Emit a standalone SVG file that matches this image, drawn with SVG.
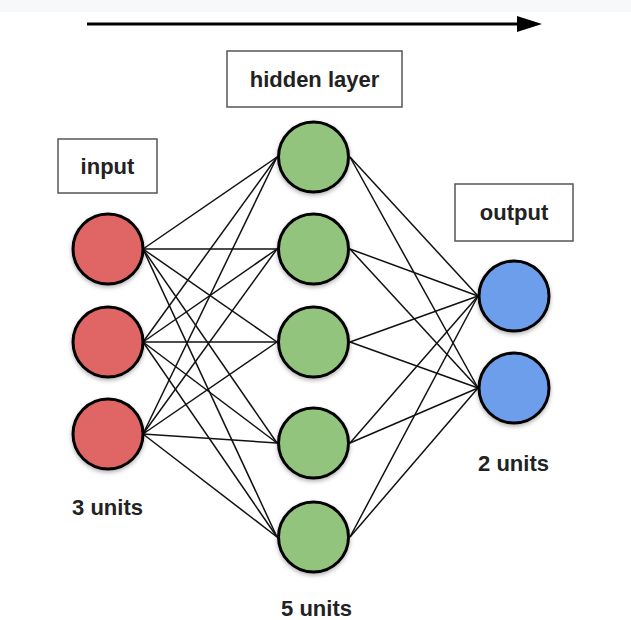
<svg xmlns="http://www.w3.org/2000/svg" width="631" height="620" viewBox="0 0 631 620">
<defs>
<style>
.lbl{font-family:"Liberation Sans",Arial,sans-serif;font-weight:bold;font-size:22px;fill:#222;text-anchor:middle}
.box{fill:#fff;stroke:#555;stroke-width:1.5}
.n{stroke:#000;stroke-width:3}
.r{fill:#e06666}.g{fill:#93c47d}.b{fill:#6d9eeb}
.c line{stroke:#111;stroke-width:1.5}
</style>
<filter id="sh" x="-30%" y="-30%" width="160%" height="160%">
<feDropShadow dx="0" dy="2" stdDeviation="2" flood-color="#000" flood-opacity="0.3"/>
</filter>
</defs>
<rect width="631" height="620" fill="#fff"/>
<rect width="631" height="12" fill="#f7f8f9"/>
<g id="flow-arrow">
<line x1="87" y1="24" x2="518" y2="24" stroke="#000" stroke-width="3"/>
<polygon points="517,16 542,24 517,32" fill="#000"/>
</g>
<g id="label-hidden"><rect class="box" x="227" y="51" width="175" height="56"/><text class="lbl" x="314.5" y="87">hidden layer</text></g>
<g id="label-input"><rect class="box" x="58" y="139" width="99" height="54"/><text class="lbl" x="107.5" y="174">input</text></g>
<g id="label-output"><rect class="box" x="455" y="184" width="118" height="57"/><text class="lbl" x="514" y="220">output</text></g>
<g class="c" id="connectors">
<line x1="143" y1="249" x2="277" y2="157"/><line x1="143" y1="249" x2="277" y2="249"/><line x1="143" y1="249" x2="277" y2="342"/><line x1="143" y1="249" x2="277" y2="443"/><line x1="143" y1="249" x2="277" y2="537"/>
<line x1="143" y1="342" x2="277" y2="157"/><line x1="143" y1="342" x2="277" y2="249"/><line x1="143" y1="342" x2="277" y2="342"/><line x1="143" y1="342" x2="277" y2="443"/><line x1="143" y1="342" x2="277" y2="537"/>
<line x1="143" y1="434" x2="277" y2="157"/><line x1="143" y1="434" x2="277" y2="249"/><line x1="143" y1="434" x2="277" y2="342"/><line x1="143" y1="434" x2="277" y2="443"/><line x1="143" y1="434" x2="277" y2="537"/>
<line x1="350" y1="157" x2="478" y2="296"/><line x1="350" y1="157" x2="478" y2="388"/>
<line x1="350" y1="249" x2="478" y2="296"/><line x1="350" y1="249" x2="478" y2="388"/>
<line x1="350" y1="342" x2="478" y2="296"/><line x1="350" y1="342" x2="478" y2="388"/>
<line x1="350" y1="443" x2="478" y2="296"/><line x1="350" y1="443" x2="478" y2="388"/>
<line x1="350" y1="537" x2="478" y2="296"/><line x1="350" y1="537" x2="478" y2="388"/>
</g>
<g filter="url(#sh)">
<g id="in1"><circle class="n r" cx="108" cy="249" r="35"/></g>
<g id="in2"><circle class="n r" cx="108" cy="342" r="35"/></g>
<g id="in3"><circle class="n r" cx="108" cy="434" r="35"/></g>
<g id="h1"><circle class="n g" cx="313.5" cy="157" r="35"/></g>
<g id="h2"><circle class="n g" cx="313.5" cy="249" r="35"/></g>
<g id="h3"><circle class="n g" cx="313.5" cy="342" r="35"/></g>
<g id="h4"><circle class="n g" cx="313.5" cy="443" r="35"/></g>
<g id="h5"><circle class="n g" cx="313.5" cy="537" r="35"/></g>
<g id="out1"><circle class="n b" cx="514" cy="296" r="35"/></g>
<g id="out2"><circle class="n b" cx="514" cy="388" r="35"/></g>
</g>
<g id="unit-labels">
<text class="lbl" x="107.5" y="515">3 units</text>
<text class="lbl" x="316.5" y="616">5 units</text>
<text class="lbl" x="513.5" y="471">2 units</text>
</g>
</svg>
